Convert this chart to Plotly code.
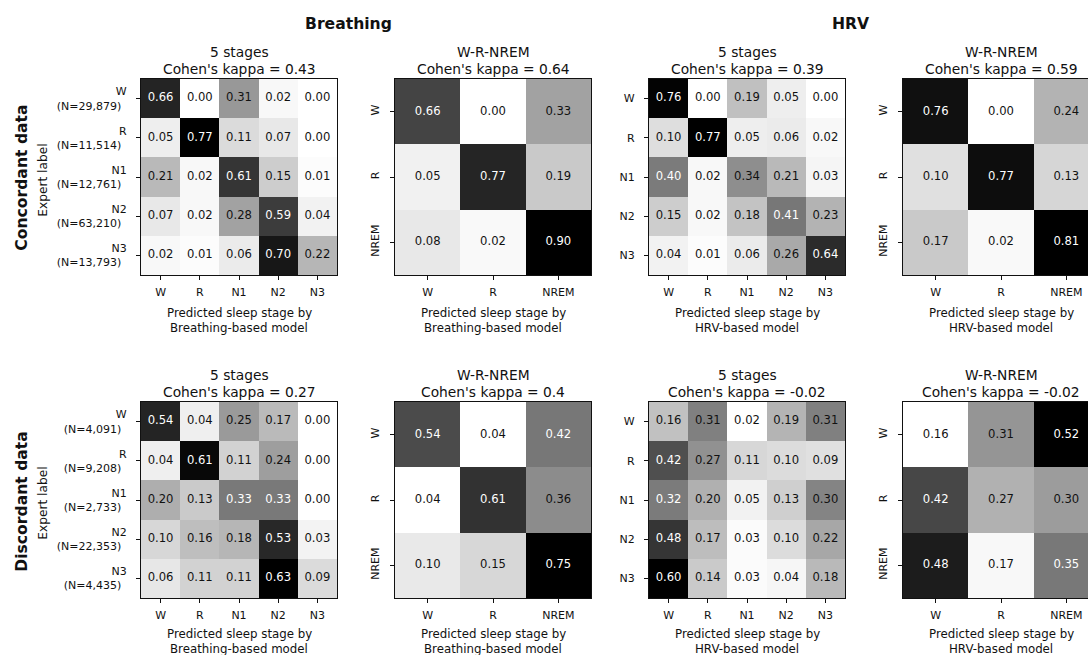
import plotly.graph_objects as go

FIG_W, FIG_H = 1088, 655
FONT = "DejaVu Sans"

# ---- data -------------------------------------------------------------
stages5 = ["W", "R", "N1", "N2", "N3"]
stages3 = ["W", "R", "NREM"]
n_concordant = ["29,879", "11,514", "12,761", "63,210", "13,793"]
n_discordant = ["4,091", "9,208", "2,733", "22,353", "4,435"]

breathing_conc_5 = [
    [0.66, 0.00, 0.31, 0.02, 0.00],
    [0.05, 0.77, 0.11, 0.07, 0.00],
    [0.21, 0.02, 0.61, 0.15, 0.01],
    [0.07, 0.02, 0.28, 0.59, 0.04],
    [0.02, 0.01, 0.06, 0.70, 0.22],
]
breathing_conc_3 = [
    [0.66, 0.00, 0.33],
    [0.05, 0.77, 0.19],
    [0.08, 0.02, 0.90],
]
hrv_conc_5 = [
    [0.76, 0.00, 0.19, 0.05, 0.00],
    [0.10, 0.77, 0.05, 0.06, 0.02],
    [0.40, 0.02, 0.34, 0.21, 0.03],
    [0.15, 0.02, 0.18, 0.41, 0.23],
    [0.04, 0.01, 0.06, 0.26, 0.64],
]
hrv_conc_3 = [
    [0.76, 0.00, 0.24],
    [0.10, 0.77, 0.13],
    [0.17, 0.02, 0.81],
]
breathing_disc_5 = [
    [0.54, 0.04, 0.25, 0.17, 0.00],
    [0.04, 0.61, 0.11, 0.24, 0.00],
    [0.20, 0.13, 0.33, 0.33, 0.00],
    [0.10, 0.16, 0.18, 0.53, 0.03],
    [0.06, 0.11, 0.11, 0.63, 0.09],
]
breathing_disc_3 = [
    [0.54, 0.04, 0.42],
    [0.04, 0.61, 0.36],
    [0.10, 0.15, 0.75],
]
hrv_disc_5 = [
    [0.16, 0.31, 0.02, 0.19, 0.31],
    [0.42, 0.27, 0.11, 0.10, 0.09],
    [0.32, 0.20, 0.05, 0.13, 0.30],
    [0.48, 0.17, 0.03, 0.10, 0.22],
    [0.60, 0.14, 0.03, 0.04, 0.18],
]
hrv_disc_3 = [
    [0.16, 0.31, 0.52],
    [0.42, 0.27, 0.30],
    [0.48, 0.17, 0.35],
]

kappa_conc = [0.43, 0.64, 0.39, 0.59]
kappa_disc = [0.27, 0.4, -0.02, -0.02]

# linear white-to-black scale, normalised per panel
GRAY_R = [[0.0, "#ffffff"], [1.0, "#000000"]]

# ---- layout geometry (pixels) ----------------------------------------
col_left = [141, 395, 649, 903]
panel_size = 196
row_top = [79, 402]
xtitle_offsets = [(38, 52.5), (36, 50.5)]


def px_x(x):
    return x / FIG_W


def px_y(y):
    return 1 - y / FIG_H


rows = [
    dict(mats=[breathing_conc_5, breathing_conc_3, hrv_conc_5, hrv_conc_3],
         kappas=kappa_conc, counts=n_concordant, name="Concordant data"),
    dict(mats=[breathing_disc_5, breathing_disc_3, hrv_disc_5, hrv_disc_3],
         kappas=kappa_disc, counts=n_discordant, name="Discordant data"),
]
models = ["Breathing", "Breathing", "HRV", "HRV"]
titles = ["5 stages", "W-R-NREM", "5 stages", "W-R-NREM"]

fig = go.Figure()
annotations = []
axis_style = dict(
    showgrid=False, zeroline=False, showline=True, linecolor="#111111",
    linewidth=1.2, ticks="outside", ticklen=4, tickwidth=1, tickcolor="#111111",
    tickfont=dict(family=FONT, size=11, color="#111111"),
)

k = 0
for r, row in enumerate(rows):
    top = row_top[r]
    bottom = top + panel_size
    for c in range(4):
        k += 1
        z = row["mats"][c]
        n = len(z)
        labels = stages5 if n == 5 else stages3
        xa = "x" if k == 1 else f"x{k}"
        ya = "y" if k == 1 else f"y{k}"
        zmin = min(min(v) for v in z)
        zmax = max(max(v) for v in z)
        thresh = (zmin + zmax) / 2

        fig.add_trace(go.Heatmap(
            z=z, x=list(range(n)), y=list(range(n)), zmin=zmin, zmax=zmax,
            colorscale=GRAY_R, showscale=False, xaxis=xa, yaxis=ya,
            hoverinfo="skip",
        ))
        xs, ys, txt, cols = [], [], [], []
        for i in range(n):
            for j in range(n):
                xs.append(j)
                ys.append(i)
                txt.append(f"{z[i][j]:.2f}")
                cols.append("white" if z[i][j] > thresh else "#111111")
        fig.add_trace(go.Scatter(
            x=xs, y=ys, mode="text", text=txt,
            textfont=dict(family=FONT, size=11.6, color=cols),
            xaxis=xa, yaxis=ya, showlegend=False, hoverinfo="skip",
        ))

        left = col_left[c]
        right = left + panel_size
        cell = panel_size / n
        x_dom_right = min(right, FIG_W)
        x_hi = -0.5 + (x_dom_right - left) / cell

        if c == 0:
            yticks = [f"{s}<br>(N={cnt})\u2002" for s, cnt in zip(stages5, row["counts"])]
        else:
            yticks = labels

        xkey = "xaxis" if k == 1 else f"xaxis{k}"
        ykey = "yaxis" if k == 1 else f"yaxis{k}"
        fig.layout[xkey] = dict(
            axis_style, domain=[px_x(left), px_x(x_dom_right)],
            range=[-0.5, x_hi], tickvals=list(range(n)), ticktext=labels,
            anchor=ya, mirror=True, fixedrange=True, ticklabelstandoff=3,
        )
        fig.layout[ykey] = dict(
            axis_style, domain=[px_y(bottom), px_y(top)],
            range=[n - 0.5, -0.5], tickvals=list(range(n)), ticktext=yticks,
            tickangle=-90 if n == 3 else 0, ticklabelstandoff=7,
            anchor=xa, mirror=(right <= FIG_W), fixedrange=True,
        )

        # panel title
        cx = left + panel_size / 2
        kappa_txt = str(round(row["kappas"][c], 2))
        for line, yy in ((titles[c], top - 27), (f"Cohen's kappa = {kappa_txt}", top - 10)):
            annotations.append(dict(
                x=px_x(cx), y=px_y(yy), xref="paper", yref="paper",
                text=line, showarrow=False, xanchor="center", yanchor="middle",
                font=dict(family=FONT, size=13.8, color="#111111"),
            ))
        # x axis title
        off1, off2 = xtitle_offsets[r]
        for line, yy in (("Predicted sleep stage by", bottom + off1),
                         (f"{models[c]}-based model", bottom + off2)):
            annotations.append(dict(
                x=px_x(cx), y=px_y(yy), xref="paper", yref="paper",
                text=line, showarrow=False, xanchor="center", yanchor="middle",
                font=dict(family=FONT, size=11.8, color="#111111"),
            ))

    # row labels
    mid = top + panel_size / 2
    annotations.append(dict(
        x=px_x(21.7), y=px_y(mid + 1), xref="paper", yref="paper",
        text=f"<b>{row['name']}</b>", textangle=-90, showarrow=False,
        xanchor="center", yanchor="middle",
        font=dict(family=FONT, size=15.6, color="#111111"),
    ))
    annotations.append(dict(
        x=px_x(42.7), y=px_y(mid + 3), xref="paper", yref="paper",
        text="Expert label", textangle=-90, showarrow=False,
        xanchor="center", yanchor="middle",
        font=dict(family=FONT, size=12.2, color="#111111"),
    ))

# model headers
for text, xx in (("Breathing", 348), ("HRV", 850.5)):
    annotations.append(dict(
        x=px_x(xx), y=px_y(24), xref="paper", yref="paper",
        text=f"<b>{text}</b>", showarrow=False, xanchor="center",
        yanchor="middle", font=dict(family=FONT, size=15.6, color="#111111"),
    ))

fig.update_layout(
    width=FIG_W, height=FIG_H, margin=dict(l=0, r=0, t=0, b=0),
    paper_bgcolor="white", plot_bgcolor="white", showlegend=False,
    annotations=annotations, font=dict(family=FONT, color="#111111"),
)

fig.write_html("out.html")
